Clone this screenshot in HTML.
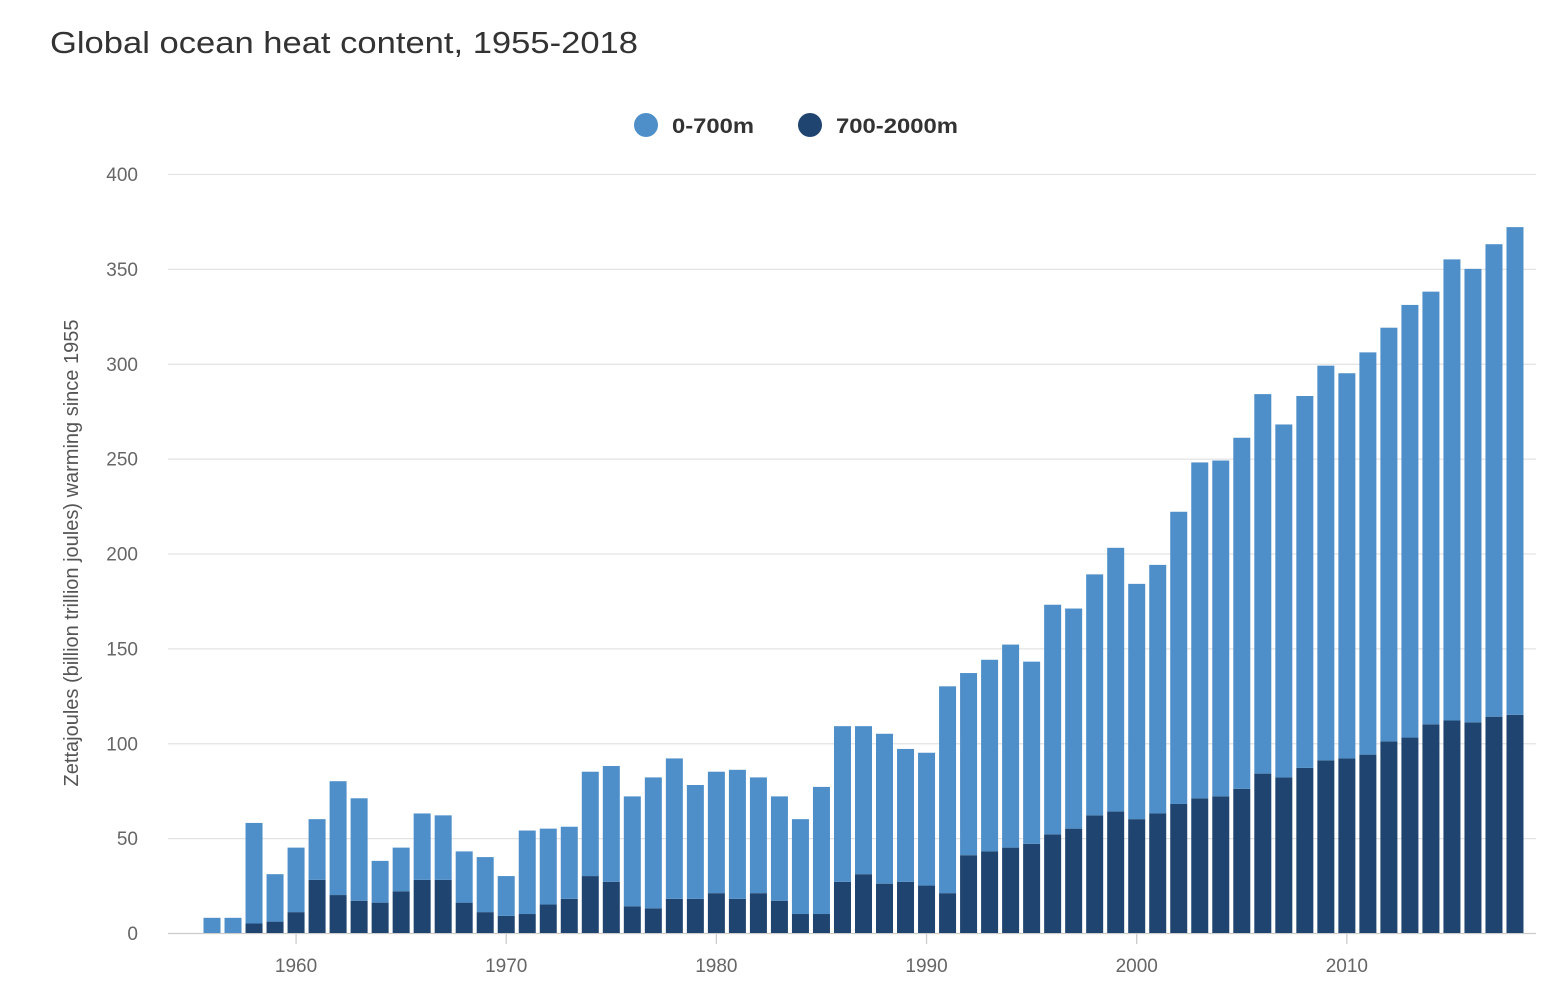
<!DOCTYPE html>
<html><head><meta charset="utf-8"><style>
body{margin:0;background:#fff;font-family:"Liberation Sans",sans-serif;}
svg{display:block}
</style></head><body>
<svg id="c" width="1558" height="1002">
<text x="50" y="53" font-size="31" fill="#333" textLength="588" lengthAdjust="spacingAndGlyphs">Global ocean heat content, 1955-2018</text>
<g>
<circle cx="646" cy="125" r="12" fill="#4e8fca"/>
<text x="672" y="133" font-size="21" font-weight="bold" fill="#333" textLength="82" lengthAdjust="spacingAndGlyphs">0-700m</text>
<circle cx="810" cy="125" r="12" fill="#1f446f"/>
<text x="836" y="133" font-size="21" font-weight="bold" fill="#333" textLength="122" lengthAdjust="spacingAndGlyphs">700-2000m</text>
</g>
<text transform="translate(78,553) rotate(-90)" text-anchor="middle" font-size="20" fill="#555">Zettajoules (billion trillion joules) warming since 1955</text>
<g id="grid"></g><g id="bars"></g><g id="xt"></g>
</svg>
<script>
const years=[];for(let y=1956;y<=2018;y++)years.push(y);
const totals=[8,8,58,31,45,60,80,71,38,45,63,62,43,40,30,54,55,56,85,88,72,82,92,78,85,86,82,72,60,77,109,109,105,97,95,130,137,144,152,143,173,171,189,203,184,194,222,248,249,261,284,268,283,299,295,306,319,331,338,355,350,363,372];
const deep=[0,0,5,6,11,28,20,17,16,22,28,28,16,11,9,10,15,18,30,27,14,13,18,18,21,18,21,17,10,10,27,31,26,27,25,21,41,43,45,47,52,55,62,64,60,63,68,71,72,76,84,82,87,91,92,94,101,103,110,112,111,114,115];
const yTicks=[0,50,100,150,200,250,300,350,400];
const xTicks=[1960,1970,1980,1990,2000,2010];
const NS='http://www.w3.org/2000/svg';
const yS=v=>933-v*759/400;
const xS=y=>212+(y-1956)*21.016;
function mk(t,a,p){const e=document.createElementNS(NS,t);for(const k in a)e.setAttribute(k,a[k]);p.appendChild(e);return e;}
const grid=document.getElementById('grid'),bars=document.getElementById('bars'),xt=document.getElementById('xt');
yTicks.forEach(v=>{
 const l=mk('line',{x1:168,x2:1536,y1:yS(v)+0.5,y2:yS(v)+0.5,stroke:v==0?'#ccc':'#e3e3e3','stroke-width':1.3},grid);
 
 
 const t=mk('text',{x:138,y:yS(v)+7,'text-anchor':'end','font-size':19,fill:'#666'},grid);t.textContent=v;
 
 
});
years.forEach((y,i)=>{
 const x=xS(y)-8.5;
 const d=mk('rect',{x:x,width:17,y:yS(deep[i]),height:yS(0)-yS(deep[i]),fill:'#1f446f'},bars);
 
 
 const s=mk('rect',{x:x,width:17,y:yS(totals[i]),height:yS(deep[i])-yS(totals[i]),fill:'#4e8fca'},bars);
 
 
});
xTicks.forEach(y=>{
 const l=mk('line',{x1:xS(y),x2:xS(y),y1:934,y2:944,stroke:'#ccc','stroke-width':1.3},xt);
 
 
 const t=mk('text',{x:xS(y),y:972,'text-anchor':'middle','font-size':19,fill:'#666'},xt);t.textContent=y;
 
 
});
</script>
</body></html>
